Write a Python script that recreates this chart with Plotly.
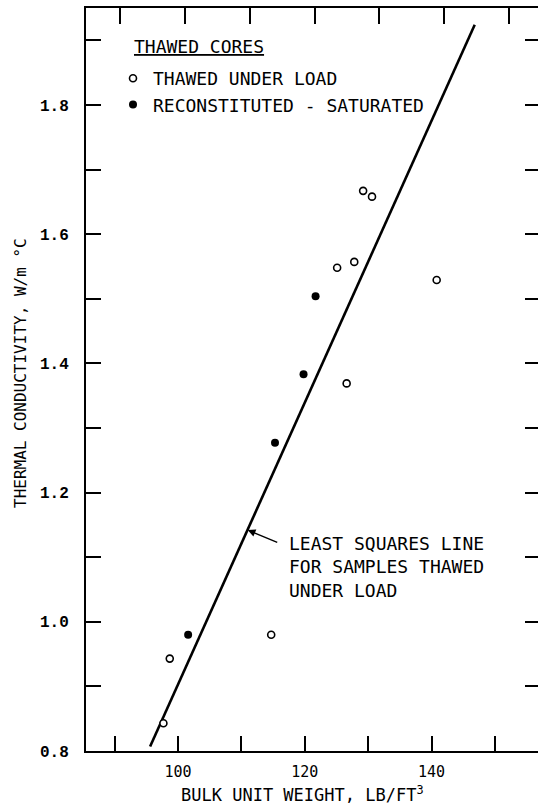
import plotly.graph_objects as go

# ---- data ----
thawed_x = [129.2, 130.6, 127.8, 125.1, 140.8, 126.6, 114.7, 98.7, 97.7]
thawed_y = [1.667, 1.658, 1.557, 1.548, 1.529, 1.369, 0.980, 0.943, 0.843]
recon_x = [121.7, 119.8, 115.3, 101.6]
recon_y = [1.504, 1.383, 1.277, 0.980]
fit_x = [95.6, 146.8]
fit_y = [0.807, 1.924]

x_tickvals = [90, 100, 110, 120, 130, 140, 150]
x_ticktext = ["", "100", "", "120", "", "140", ""]
y_tickvals = [0.8, 0.9, 1.0, 1.1, 1.2, 1.3, 1.4, 1.5, 1.6, 1.7, 1.8, 1.9]
y_ticktext = ["0.8", "", "1.0", "", "1.2", "", "1.4", "", "1.6", "", "1.8", ""]

MONO = "DejaVu Sans Mono"
W, H = 538, 809
L, R, T, B = 86, 0, 8, 58

fig = go.Figure()
fig.add_trace(go.Scatter(x=fit_x, y=fit_y, mode="lines",
                         line=dict(color="black", width=2.6),
                         showlegend=False, hoverinfo="skip"))
fig.add_trace(go.Scatter(x=thawed_x, y=thawed_y, mode="markers",
                         name="THAWED UNDER LOAD",
                         marker=dict(symbol="circle", size=7, color="white",
                                     line=dict(color="black", width=1.6))))
fig.add_trace(go.Scatter(x=recon_x, y=recon_y, mode="markers",
                         name="RECONSTITUTED - SATURATED",
                         marker=dict(symbol="circle", size=8, color="black",
                                     line=dict(color="black", width=0))))
# invisible trace for the secondary (tick-only) axes
fig.add_trace(go.Scatter(x=[100], y=[1.0], xaxis="x2", yaxis="y2", mode="markers",
                         marker=dict(opacity=0), showlegend=False, hoverinfo="skip"))

xr = [85.49, 156.78]
yr = [0.8, 1.950]

fig.update_layout(
    width=W, height=H,
    margin=dict(l=L, r=R, t=T, b=B, pad=0),
    paper_bgcolor="white", plot_bgcolor="white",
    font=dict(family=MONO, color="black", size=16),
    xaxis=dict(range=xr, tickmode="array", tickvals=x_tickvals, ticktext=x_ticktext,
               ticks="inside", ticklen=15, tickwidth=1.5, tickcolor="black",
               showline=True, linecolor="black", linewidth=2,
               showgrid=False, zeroline=False, mirror=False,
               tickfont=dict(family=MONO, size=15), ticklabelstandoff=6),
    yaxis=dict(range=yr, tickmode="array", tickvals=y_tickvals, ticktext=y_ticktext,
               ticks="inside", ticklen=15, tickwidth=1.5, tickcolor="black",
               showline=True, linecolor="black", linewidth=2,
               showgrid=False, zeroline=False, mirror=False,
               tickfont=dict(family="Liberation Mono", size=16, weight="bold"),
               ticklabelstandoff=12),
    xaxis2=dict(range=[84.76, 154.47], overlaying="x", side="top", anchor="y2",
                tickmode="array", tickvals=x_tickvals, showticklabels=False,
                ticks="inside", ticklen=16, tickwidth=1.5, tickcolor="black",
                showline=True, linecolor="black", linewidth=2,
                showgrid=False, zeroline=False),
    yaxis2=dict(range=yr, overlaying="y", side="right", anchor="x2",
                tickmode="array", tickvals=y_tickvals, showticklabels=False,
                ticks="inside", ticklen=13, tickwidth=1.5, tickcolor="black",
                showline=False, showgrid=False, zeroline=False),
    showlegend=True,
    legend=dict(x=(113 - L) / (W - L - R), y=(751 - 60) / (H - T - B),
                xanchor="left", yanchor="top", bgcolor="rgba(0,0,0,0)",
                borderwidth=0, font=dict(family=MONO, size=18),
                tracegroupgap=0, itemsizing="trace"),
)

def px_x(px):
    return (px - L) / (W - L - R)

def px_y(py):
    return (H - B - py) / (H - T - B)

fig.add_annotation(text="<u>THAWED CORES</u>", x=px_x(132), y=px_y(47), xref="paper", yref="paper",
                   xanchor="left", yanchor="middle", showarrow=False,
                   font=dict(family=MONO, size=18))
# arrow pointing at the least squares line
fig.add_annotation(text="", x=111.0, y=1.142, xref="x", yref="y",
                   ax=31, ay=13, axref="pixel", ayref="pixel",
                   showarrow=True, arrowhead=2, arrowsize=1.1, arrowwidth=1.4,
                   arrowcolor="black")
fig.add_annotation(text="LEAST SQUARES LINE<br>FOR SAMPLES THAWED<br>UNDER LOAD",
                   x=px_x(287), y=px_y(531), xref="paper", yref="paper",
                   xanchor="left", yanchor="top", align="left", showarrow=False,
                   font=dict(family=MONO, size=18))
fig.add_annotation(text="BULK UNIT WEIGHT, LB/FT<sup>3</sup>", x=px_x(302), y=px_y(794),
                   xref="paper", yref="paper", xanchor="center", yanchor="middle",
                   showarrow=False, font=dict(family=MONO, size=17))
fig.add_annotation(text="THERMAL CONDUCTIVITY, W/m °C", x=px_x(20), y=px_y(373),
                   xref="paper", yref="paper", xanchor="center", yanchor="middle",
                   textangle=-90, showarrow=False, font=dict(family=MONO, size=16))

fig.write_html("out.html")
